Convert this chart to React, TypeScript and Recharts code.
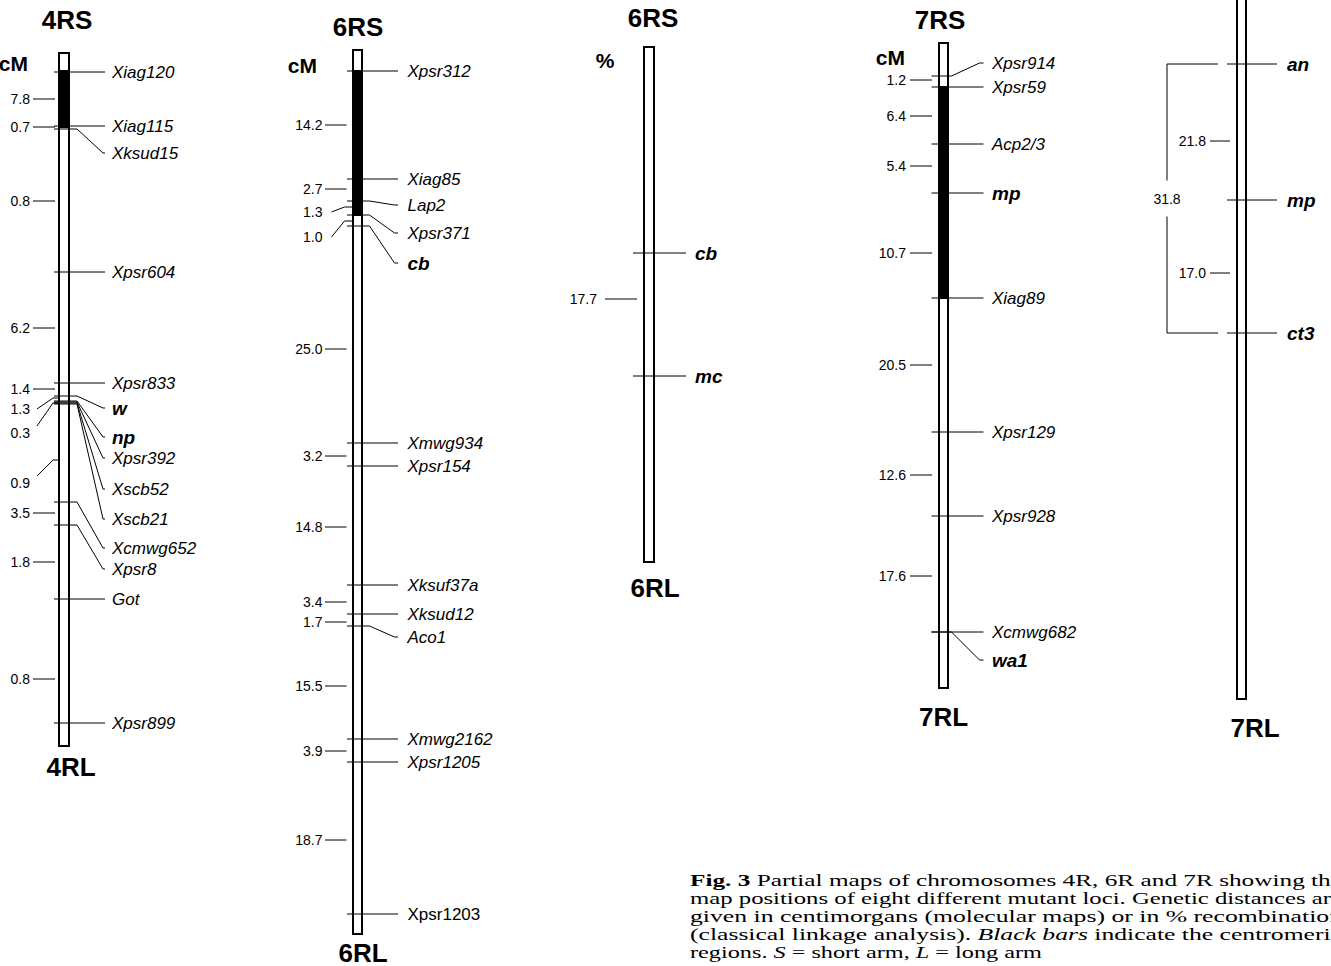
import React from 'react';
import { ComposedChart, XAxis, YAxis, Line, Scatter, ReferenceArea } from 'recharts';

const WIDTH = 1331;
const HEIGHT = 966;

// Positions are map positions in drawing units (top of figure = 0)
interface Marker {
  name: string;
  pos: number;
  label?: number;
  locus?: boolean;
  upright?: boolean;
}

interface Interval {
  value: string;
  pos: number;
  label?: number;
  hook?: number;
}

interface Span {
  top: number;
  bottom: number;
  cenTop?: number;
  cenBottom?: number;
}

// 4R molecular map (cM)
const span4R: Span = { top: 53, cenTop: 71, cenBottom: 127, bottom: 746 };
const markers4R: Marker[] = [
  { name: 'Xiag120', pos: 72 },
  { name: 'Xiag115', pos: 126 },
  { name: 'Xksud15', pos: 129, label: 153 },
  { name: 'Xpsr604', pos: 272 },
  { name: 'Xpsr833', pos: 383 },
  { name: 'w', pos: 396, label: 408, locus: true },
  { name: 'np', pos: 401, label: 437, locus: true },
  { name: 'Xpsr392', pos: 402, label: 458 },
  { name: 'Xscb52', pos: 403, label: 489 },
  { name: 'Xscb21', pos: 404, label: 519 },
  { name: 'Xcmwg652', pos: 502, label: 548 },
  { name: 'Xpsr8', pos: 525, label: 569 },
  { name: 'Got', pos: 599 },
  { name: 'Xpsr899', pos: 723 },
];
const intervals4R: Interval[] = [
  { value: '7.8', pos: 99 },
  { value: '0.7', pos: 127 },
  { value: '0.8', pos: 201 },
  { value: '6.2', pos: 328 },
  { value: '1.4', pos: 389 },
  { value: '1.3', pos: 398, label: 409 },
  { value: '0.3', pos: 403, label: 433, hook: 426 },
  { value: '0.9', pos: 460, label: 483, hook: 476 },
  { value: '3.5', pos: 513 },
  { value: '1.8', pos: 562 },
  { value: '0.8', pos: 679 },
];

// 6R molecular map (cM)
const span6R: Span = { top: 50, cenTop: 71, cenBottom: 215, bottom: 934 };
const markers6R: Marker[] = [
  { name: 'Xpsr312', pos: 71 },
  { name: 'Xiag85', pos: 179 },
  { name: 'Lap2', pos: 201, label: 205 },
  { name: 'Xpsr371', pos: 215, label: 233 },
  { name: 'cb', pos: 226, label: 263, locus: true },
  { name: 'Xmwg934', pos: 443 },
  { name: 'Xpsr154', pos: 466 },
  { name: 'Xksuf37a', pos: 585 },
  { name: 'Xksud12', pos: 614 },
  { name: 'Aco1', pos: 626, label: 637 },
  { name: 'Xmwg2162', pos: 739 },
  { name: 'Xpsr1205', pos: 762 },
  { name: 'Xpsr1203', pos: 914, upright: true },
];
const intervals6R: Interval[] = [
  { value: '14.2', pos: 125 },
  { value: '2.7', pos: 189 },
  { value: '1.3', pos: 207, label: 212 },
  { value: '1.0', pos: 221, label: 237 },
  { value: '25.0', pos: 349 },
  { value: '3.2', pos: 456 },
  { value: '14.8', pos: 527 },
  { value: '3.4', pos: 602 },
  { value: '1.7', pos: 622 },
  { value: '15.5', pos: 686 },
  { value: '3.9', pos: 751 },
  { value: '18.7', pos: 840 },
];

// 6R classical linkage (% recombination)
const span6Rc: Span = { top: 47, bottom: 562 };
const markers6Rc: Marker[] = [
  { name: 'cb', pos: 253, locus: true },
  { name: 'mc', pos: 376, locus: true },
];
const intervals6Rc: Interval[] = [{ value: '17.7', pos: 299 }];

// 7R molecular map (cM)
const span7R: Span = { top: 43, cenTop: 87, cenBottom: 298, bottom: 688 };
const markers7R: Marker[] = [
  { name: 'Xpsr914', pos: 76, label: 63 },
  { name: 'Xpsr59', pos: 87 },
  { name: 'Acp2/3', pos: 144 },
  { name: 'mp', pos: 193, locus: true },
  { name: 'Xiag89', pos: 298 },
  { name: 'Xpsr129', pos: 432 },
  { name: 'Xpsr928', pos: 516 },
  { name: 'Xcmwg682', pos: 632 },
  { name: 'wa1', pos: 632, label: 660, locus: true },
];
const intervals7R: Interval[] = [
  { value: '1.2', pos: 80 },
  { value: '6.4', pos: 116 },
  { value: '5.4', pos: 166 },
  { value: '10.7', pos: 253 },
  { value: '20.5', pos: 365 },
  { value: '12.6', pos: 475 },
  { value: '17.6', pos: 576 },
];

// 7R classical linkage
const span7Rc: Span = { top: -10, bottom: 699 };
const markers7Rc: Marker[] = [
  { name: 'an', pos: 64, locus: true },
  { name: 'mp', pos: 200, locus: true },
  { name: 'ct3', pos: 333, locus: true },
];
const intervals7Rc: Interval[] = [
  { value: '21.8', pos: 141 },
  { value: '17.0', pos: 273 },
];
const bracket7Rc = { value: '31.8', from: 64, to: 333 };

const captionLines = [
  [{ t: 'Fig. 3', b: true }, { t: '  Partial maps of chromosomes 4R, 6R and 7R showing the' }],
  [{ t: 'map positions of eight different mutant loci. Genetic distances are' }],
  [{ t: 'given in centimorgans (molecular maps) or in % recombination' }],
  [{ t: '(classical linkage analysis). ' }, { t: 'Black bars', i: true }, { t: ' indicate the centromeric' }],
  [{ t: 'regions. ' }, { t: 'S', i: true }, { t: ' = short arm, ' }, { t: 'L', i: true }, { t: ' = long arm' }],
];

// layout of each map column (drawing units, relative to bar centre)
interface Title {
  text: string;
  dx: number;
  y: number;
  kind: string;
  anchor: string;
}

interface Layout {
  x: number;
  half: number;
  markFrom: number;
  markTo: number;
  bend: number;
  diagTo: number;
  textAt: number;
  tickFrom: number;
  tickTo: number;
  numAt: number;
  hookFrom: number;
  hookBend: number;
  titles: Title[];
}

const layout4R: Layout = {
  x: 64, half: 5, markFrom: -10, markTo: 41, bend: 13, diagTo: 39, textAt: 48,
  tickFrom: -31, tickTo: -9, numAt: -34, hookFrom: -27, hookBend: -11,
  titles: [
    { text: '4RS', dx: 3, y: 20, kind: 'title', anchor: 'middle' },
    { text: '4RL', dx: 7, y: 767, kind: 'title', anchor: 'middle' },
    { text: 'cM', dx: -36, y: 63, kind: 'unit', anchor: 'end' },
  ],
};
const layout6R: Layout = {
  x: 357.5, half: 4.5, markFrom: -10.5, markTo: 40.5, bend: 12, diagTo: 37, textAt: 50,
  tickFrom: -32.5, tickTo: -11, numAt: -35, hookFrom: -26, hookBend: -13,
  titles: [
    { text: '6RS', dx: 0.5, y: 27, kind: 'title', anchor: 'middle' },
    { text: '6RL', dx: 5.5, y: 953, kind: 'title', anchor: 'middle' },
    { text: 'cM', dx: -40.5, y: 65, kind: 'unit', anchor: 'end' },
  ],
};
const layout6Rc: Layout = {
  x: 649, half: 5, markFrom: -16, markTo: 37, bend: 12, diagTo: 37, textAt: 46,
  tickFrom: -44, tickTo: -12, numAt: -52, hookFrom: -27, hookBend: -11,
  titles: [
    { text: '6RS', dx: 4, y: 18, kind: 'title', anchor: 'middle' },
    { text: '6RL', dx: 6, y: 588, kind: 'title', anchor: 'middle' },
    { text: '%', dx: -44, y: 60, kind: 'unit', anchor: 'middle' },
  ],
};
const layout7R: Layout = {
  x: 943.5, half: 4.5, markFrom: -12, markTo: 40, bend: 8, diagTo: 36, textAt: 48.5,
  tickFrom: -33.5, tickTo: -11.5, numAt: -37.5, hookFrom: -27, hookBend: -11,
  titles: [
    { text: '7RS', dx: -3.5, y: 20, kind: 'title', anchor: 'middle' },
    { text: '7RL', dx: 0, y: 717, kind: 'title', anchor: 'middle' },
    { text: 'cM', dx: -38.5, y: 57, kind: 'unit', anchor: 'end' },
  ],
};
const layout7Rc: Layout = {
  x: 1241.5, half: 4.5, markFrom: -14.5, markTo: 35.5, bend: 12, diagTo: 35, textAt: 45.5,
  tickFrom: -31.5, tickTo: -11.5, numAt: -35.5, hookFrom: -27, hookBend: -11,
  titles: [{ text: '7RL', dx: 13.5, y: 728, kind: 'title', anchor: 'middle' }],
};

const maps = [
  { key: '4R', span: span4R, markers: markers4R, intervals: intervals4R, layout: layout4R },
  { key: '6R', span: span6R, markers: markers6R, intervals: intervals6R, layout: layout6R },
  { key: '6Rc', span: span6Rc, markers: markers6Rc, intervals: intervals6Rc, layout: layout6Rc },
  { key: '7R', span: span7R, markers: markers7R, intervals: intervals7R, layout: layout7R },
  { key: '7Rc', span: span7Rc, markers: markers7Rc, intervals: intervals7Rc, layout: layout7Rc },
];

const SANS = "'Liberation Sans', Arial, Helvetica, sans-serif";
const textStyles: Record<string, { size: number; weight: string; style: string }> = {
  title: { size: 26, weight: 'bold', style: 'normal' },
  unit: { size: 21, weight: 'bold', style: 'normal' },
  marker: { size: 17, weight: 'normal', style: 'italic' },
  plain: { size: 17, weight: 'normal', style: 'normal' },
  locus: { size: 19, weight: 'bold', style: 'italic' },
  num: { size: 14, weight: 'normal', style: 'normal' },
};

interface Pt { x: number; y: number }
interface TextItem { x: number; y: number; text: string; kind: string; anchor: string }

const polylines: { id: string; pts: Pt[] }[] = [];
const texts: TextItem[] = [];

maps.forEach(({ key, markers, intervals, layout: L }) => {
  markers.forEach((m, i) => {
    const ly = m.label ?? m.pos;
    const pts: Pt[] =
      ly === m.pos
        ? [{ x: L.x + L.markFrom, y: m.pos }, { x: L.x + L.markTo, y: m.pos }]
        : [
            { x: L.x + L.markFrom, y: m.pos },
            { x: L.x + L.bend, y: m.pos },
            { x: L.x + L.diagTo, y: ly },
            { x: L.x + L.markTo, y: ly },
          ];
    polylines.push({ id: `${key}-m${i}`, pts });
    texts.push({
      x: L.x + L.textAt,
      y: ly,
      text: m.name,
      kind: m.locus ? 'locus' : m.upright ? 'plain' : 'marker',
      anchor: 'start',
    });
  });
  intervals.forEach((d, i) => {
    const ly = d.label ?? d.pos;
    const pts: Pt[] =
      ly === d.pos
        ? [{ x: L.x + L.tickFrom, y: d.pos }, { x: L.x + L.tickTo, y: d.pos }]
        : [
            { x: L.x + L.hookFrom, y: d.hook ?? ly },
            { x: L.x + L.hookBend, y: d.pos },
            { x: L.x - L.half, y: d.pos },
          ];
    polylines.push({ id: `${key}-d${i}`, pts });
    texts.push({ x: L.x + L.numAt, y: ly, text: d.value, kind: 'num', anchor: 'end' });
  });
  L.titles.forEach((t) => {
    texts.push({ x: L.x + t.dx, y: t.y, text: t.text, kind: t.kind, anchor: t.anchor });
  });
});

// 31.8 bracket spanning an - ct3 on the classical 7R map
{
  const bx = layout7Rc.x - 74.5;
  const inner = layout7Rc.x - 23.5;
  const mid = (bracket7Rc.from + bracket7Rc.to) / 2;
  polylines.push({
    id: 'br-top',
    pts: [{ x: inner, y: bracket7Rc.from }, { x: bx, y: bracket7Rc.from }, { x: bx, y: mid - 18 }],
  });
  polylines.push({
    id: 'br-bottom',
    pts: [{ x: bx, y: mid + 18 }, { x: bx, y: bracket7Rc.to }, { x: inner, y: bracket7Rc.to }],
  });
  texts.push({ x: bx, y: mid, text: bracket7Rc.value, kind: 'num', anchor: 'middle' });
}

const TextMark = (props: any) => {
  const { cx, cy, payload } = props;
  if (cx == null || cy == null || !payload) return null;
  const s = textStyles[payload.kind];
  return (
    <text
      x={cx}
      y={cy}
      dy="0.36em"
      textAnchor={payload.anchor}
      fontFamily={SANS}
      fontSize={s.size}
      fontWeight={s.weight}
      fontStyle={s.style}
      fill="#000"
    >
      {payload.text}
    </text>
  );
};

export default function App() {
  return (
    <div
      style={{
        position: 'absolute',
        left: 0,
        top: 0,
        width: WIDTH,
        height: HEIGHT,
        overflow: 'hidden',
        background: '#fff',
      }}
    >
      <ComposedChart width={WIDTH} height={HEIGHT} margin={{ top: 0, right: 0, bottom: 0, left: 0 }}>
        <XAxis type="number" dataKey="x" domain={[0, WIDTH]} hide allowDataOverflow />
        <YAxis type="number" dataKey="y" domain={[0, HEIGHT]} reversed hide allowDataOverflow />
        {maps.map(({ key, span, layout: L }) => (
          <ReferenceArea
            key={`${key}-bar`}
            x1={L.x - L.half}
            x2={L.x + L.half}
            y1={span.top}
            y2={span.bottom}
            fill="#fff"
            fillOpacity={1}
            stroke="#000"
            strokeWidth={2}
            ifOverflow="visible"
          />
        ))}
        {maps
          .filter((m) => m.span.cenTop != null)
          .map(({ key, span, layout: L }) => (
            <ReferenceArea
              key={`${key}-cen`}
              x1={L.x - L.half}
              x2={L.x + L.half}
              y1={span.cenTop}
              y2={span.cenBottom}
              fill="#000"
              fillOpacity={1}
              stroke="#000"
              strokeWidth={2}
              ifOverflow="visible"
            />
          ))}
        {polylines.map((p) => (
          <Line
            key={p.id}
            data={p.pts}
            dataKey="y"
            type="linear"
            stroke="#000"
            strokeWidth={1}
            dot={false}
            activeDot={false}
            legendType="none"
            isAnimationActive={false}
          />
        ))}
        <Scatter data={texts} shape={TextMark} isAnimationActive={false} />
      </ComposedChart>
      <svg
        width={WIDTH}
        height={HEIGHT}
        style={{ position: 'absolute', left: 0, top: 0, pointerEvents: 'none' }}
      >
        <g fontFamily="'Liberation Serif', 'Times New Roman', serif" fontSize={17} fill="#000">
          {captionLines.map((parts, i) => (
            <text
              key={i}
              x={690}
              y={886 + i * 18}
              textLength={i < 4 ? 652 : 352}
              lengthAdjust="spacingAndGlyphs"
            >
              {parts.map((p: any, j) => (
                <tspan key={j} fontWeight={p.b ? 'bold' : 'normal'} fontStyle={p.i ? 'italic' : 'normal'}>
                  {p.t}
                </tspan>
              ))}
            </text>
          ))}
        </g>
      </svg>
    </div>
  );
}
